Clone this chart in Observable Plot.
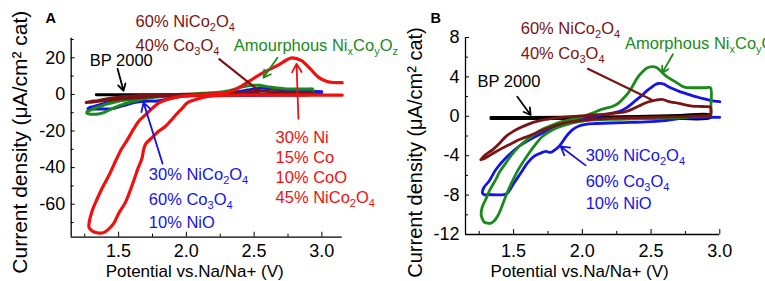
<!DOCTYPE html>
<html><head><meta charset="utf-8">
<script src="https://cdn.jsdelivr.net/npm/d3@7"></script>
<script src="https://cdn.jsdelivr.net/npm/@observablehq/plot@0.6"></script>
<style>
html,body{margin:0;padding:0;background:#fff;overflow:hidden;}
#wrap{display:flex;flex-direction:row;width:765px;height:281px;}
#wrap svg{flex:none;}
</style></head><body><div id="wrap"></div>
<script>
// ---------- data: [potential (V), current density (µA/cm² cat)] ----------
const red = [[3.15,-0.4],[2.8,-0.4],[2.45,-0.4],[2.2,-0.7],[2.12,-1.6],[2.06,-3.0],[2.006,-4.6],[1.97,-7.5],[1.925,-11],[1.883,-14.5],[1.84,-17.8],[1.797,-20],[1.748,-23.5],[1.70,-27],[1.685,-30],[1.672,-35],[1.645,-40],[1.612,-47],[1.55,-59],[1.50,-65],[1.464,-70.5],[1.42,-74],[1.39,-75.5],[1.36,-75.8],[1.32,-75.2],[1.295,-74],[1.281,-72.5],[1.283,-69.8],[1.305,-63.5],[1.342,-57],[1.38,-51],[1.43,-44],[1.48,-36],[1.52,-30],[1.563,-25],[1.61,-19],[1.65,-14.5],[1.70,-11],[1.75,-7.5],[1.80,-4.5],[1.88,-2.3],[1.95,-1.2],[2.05,-0.4],[2.2,0.3],[2.3,1.2],[2.35,2.2],[2.40,4.2],[2.47,7.5],[2.57,12.0],[2.67,15.7],[2.74,18.8],[2.78,20.0],[2.85,18.4],[2.915,13.9],[2.976,9.3],[3.038,7.1],[3.087,6.5],[3.15,6.4]];
const green = [[1.285,-10.74],[1.265,-10.1],[1.27,-9.3],[1.297,-8.45],[1.33,-7.4],[1.37,-6.43],[1.40,-5.6],[1.443,-4.75],[1.49,-3.85],[1.539,-3.06],[1.60,-2.35],[1.661,-1.72],[1.72,-1.25],[1.782,-0.88],[1.85,-0.55],[1.927,-0.3],[2.0,-0.05],[2.07,0.3],[2.121,0.6],[2.18,0.85],[2.218,1.0],[2.26,1.3],[2.29,1.7],[2.33,2.3],[2.363,3.0],[2.40,3.9],[2.436,4.5],[2.47,4.9],[2.508,5.05],[2.54,4.95],[2.57,4.6],[2.617,4.0],[2.678,3.5],[2.72,3.1],[2.751,2.93],[2.823,2.9],[2.90,2.9],[2.932,2.9],[2.935,1.0],[2.932,0.13],[2.85,0.0],[2.751,-0.1],[2.508,-0.2],[2.266,-0.3],[2.10,-0.35],[1.976,-0.54],[1.879,-0.88],[1.782,-1.38],[1.709,-2.05],[1.648,-3.06],[1.588,-4.24],[1.527,-5.59],[1.479,-6.94],[1.443,-8.11],[1.406,-9.46],[1.385,-10.1],[1.36,-10.6],[1.335,-10.85],[1.31,-10.85],[1.285,-10.74]];
const blue = [[3.0,-0.1],[2.9,-0.1],[2.75,-0.15],[2.6,-0.45],[2.5,-0.55],[2.35,-0.62],[2.2,-0.68],[2.1,-0.73],[2.048,-0.77],[1.976,-0.98],[1.927,-1.38],[1.879,-2.12],[1.83,-3.06],[1.794,-3.47],[1.77,-3.67],[1.733,-3.57],[1.697,-3.74],[1.648,-4.07],[1.600,-4.75],[1.552,-5.76],[1.503,-6.77],[1.455,-7.78],[1.43,-7.95],[1.38,-7.98],[1.32,-7.95],[1.285,-7.95],[1.273,-7.78],[1.285,-7.2],[1.321,-6.6],[1.370,-5.42],[1.443,-4.24],[1.539,-3.06],[1.661,-2.05],[1.782,-1.21],[1.903,-0.54],[2.024,-0.2],[2.145,0.13],[2.21,0.3],[2.266,0.47],[2.32,0.85],[2.363,1.31],[2.40,1.75],[2.436,2.15],[2.47,2.6],[2.508,2.99],[2.535,3.25],[2.557,3.33],[2.593,3.27],[2.62,3.05],[2.654,2.83],[2.70,2.55],[2.751,2.32],[2.81,2.05],[2.872,1.82],[2.93,1.62],[3.0,1.48]];
const maroon = [[1.261,-4.41],[1.29,-3.95],[1.346,-3.4],[1.40,-2.7],[1.443,-2.06],[1.50,-1.5],[1.539,-1.21],[1.60,-0.85],[1.661,-0.54],[1.72,-0.35],[1.782,-0.2],[1.85,-0.1],[1.927,-0.03],[2.0,0.05],[2.072,0.13],[2.15,0.2],[2.218,0.3],[2.27,0.38],[2.315,0.47],[2.36,0.7],[2.412,1.04],[2.45,1.3],[2.484,1.48],[2.533,1.65],[2.581,1.72],[2.63,1.48],[2.702,1.31],[2.75,1.15],[2.799,1.04],[2.85,1.0],[2.896,0.98],[2.932,0.91],[2.935,0.5],[2.932,0.13],[2.85,0.05],[2.751,-0.03],[2.6,-0.07],[2.508,-0.1],[2.4,-0.13],[2.266,-0.17],[2.15,-0.25],[2.024,-0.37],[1.95,-0.5],[1.879,-0.64],[1.83,-0.82],[1.782,-1.04],[1.72,-1.35],[1.661,-1.72],[1.60,-2.05],[1.539,-2.39],[1.48,-2.8],[1.418,-3.23],[1.37,-3.6],[1.321,-4.01],[1.285,-4.3],[1.261,-4.41]];
const black = [[1.334,-0.1],[1.6,-0.1],[2.0,-0.06],[2.4,0.0],[2.7,0.1],[2.93,0.15],[2.93,-0.15],[2.6,-0.2],[2.2,-0.25],[1.8,-0.25],[1.334,-0.25]];

// axes
const xDomainA = [1.15, 3.15], yDomainA = [-78, 30.7];
const xDomainB = [1.15, 3.0],  yDomainB = [-12, 8];
const xMajor = [1.5, 2.0, 2.5, 3.0], xMinor = [1.25, 1.75, 2.25, 2.75];
const yMajorA = [-60, -40, -20, 0, 20], yMinorA = [-70, -50, -30, -10, 10, 30];
const yMajorB = [-12, -8, -4, 0, 4, 8], yMinorB = [-10, -6, -2, 2, 6];
const xTitle = "Potential vs.Na/Na+ (V)";
const yTitle = "Current density (\u03bcA/cm\u00b2 cat)";

// annotations (text, anchor in data units)
const labelsA = ["60% NiCo_2O_4","40% Co_3O_4","Amourphous Ni_xCo_yO_z","BP 2000","30% Ni","15% Co","10% CoO","45% NiCo_2O_4","30% NiCo_2O_4","60% Co_3O_4","10% NiO"];
const labelPosA = [[1.625,39.7],[1.625,26.7],[2.35,26.7],[1.287,18.4],[2.658,-23.5],[2.658,-34.4],[2.658,-45.3],[2.658,-56.2],[1.723,-43.8],[1.723,-57.4],[1.723,-70.3]];
const labelKindA = ["maroon","maroon","green","black","red","red","red","red","blue","blue","blue"];
const arrowsA = [[1.492,14.0,1.536,2.0],[2.238,19.5,2.525,2.6],[2.672,20.0,2.569,9.1],[2.827,-13.3,2.813,16.7],[1.824,-37.8,1.684,-4.5]];
const arrowKindA = ["black","maroon","green","red","blue"];

const labelsB = ["60% NiCo_2O_4","40% Co_3O_4","Amorphous Ni_xCo_yO_z","BP 2000","30% NiCo_2O_4","60% Co_3O_4","10% NiO"];
const labelPosB = [[1.552,8.89],[1.552,6.36],[2.31,7.37],[1.237,3.5],[2.024,-3.97],[2.024,-6.6],[2.024,-8.86]];
const labelKindB = ["maroon","maroon","green","black","blue","blue","blue"];
const arrowsB = [[1.527,1.99,1.624,0.13],[2.036,4.85,2.508,1.65],[2.659,6.3,2.581,4.41],[2.024,-4.98,1.842,-3.06]];
const arrowKindB = ["black","maroon","green","blue"];

// ---------- styling ----------
const COLORS = {red:"#f0100f", green:"#1b8a1b", blue:"#1414e6", maroon:"#7a1414", black:"#000"};
const FONT = "'Liberation Sans', Arial, sans-serif";

function panel(cfg) {
  const fh = cfg.height - cfg.mt - cfg.mb, fw = cfg.width - cfg.ml - cfg.mr;
  const line = (d, k, w) => Plot.line(d, {x: p => p[0], y: p => p[1], stroke: COLORS[k], strokeWidth: w, curve: "catmull-rom", strokeLinejoin: "round"});
  const labels = cfg.labels.map((t, i) => ({t, v: cfg.labelPos[i][0], c: cfg.labelPos[i][1], k: cfg.labelKind[i]}));
  const arrows = cfg.arrows.map((a, i) => ({x1: a[0], y1: a[1], x2: a[2], y2: a[3], k: cfg.arrowKind[i]}));
  const marks = [
    Plot.ruleX([cfg.xDomain[0]], {stroke: "#000", strokeWidth: 1.3}),
    Plot.ruleY([cfg.yDomain[0]], {stroke: "#000", strokeWidth: 1.3}),
    Plot.ruleX(xMajor, {x: d => d, insetTop: fh - 5, stroke: "#000", strokeWidth: 1}),
    Plot.ruleX(xMinor, {x: d => d, insetTop: fh - 3, stroke: "#000", strokeWidth: 1}),
    Plot.ruleY(cfg.yMajor, {y: d => d, insetRight: fw - 4, stroke: "#000", strokeWidth: 1}),
    Plot.ruleY(cfg.yMinor, {y: d => d, insetRight: fw - 3, stroke: "#000", strokeWidth: 1}),
    // tick labels
    Plot.text(xMajor, {x: d => d, text: d3.format(".1f"), frameAnchor: "bottom", dy: cfg.xlDy, textAnchor: "middle", lineAnchor: "middle", fontSize: 18}),
    Plot.text(cfg.yMajor, {y: d => d, text: d => String(d), frameAnchor: "left", dx: cfg.ylDx, textAnchor: "end", lineAnchor: "middle", fontSize: 18}),
    line(black, "black", 2.6),
    line(blue, "blue", cfg.lw),
    line(green, "green", cfg.lw),
    line(maroon, "maroon", cfg.lw),
    ...(cfg.withRed ? [line(red, "red", 3.2)] : []),
    Plot.arrow(arrows.filter(a => a.k !== "maroon"), {x1: "x1", y1: "y1", x2: "x2", y2: "y2", stroke: d => COLORS[d.k], strokeWidth: 1.8, headLength: 8, bend: 0}),
    Plot.link(arrows.filter(a => a.k === "maroon"), {x1: "x1", y1: "y1", x2: "x2", y2: "y2", stroke: COLORS.maroon, strokeWidth: 2.2}),
    Plot.text(labels, {x: "v", y: "c", text: "t", fill: d => COLORS[d.k], textAnchor: "start", lineAnchor: "middle", fontSize: 16.5}),
    Plot.text([cfg.letter], {text: d => d, frameAnchor: "top-left", dx: cfg.letterDx, dy: cfg.letterDy, textAnchor: "start", lineAnchor: "middle", fontWeight: "bold", fontSize: 14.5}),
    Plot.text([xTitle], {text: d => d, frameAnchor: "bottom", dx: cfg.xtDx, dy: cfg.xtDy, textAnchor: "middle", lineAnchor: "middle", fontSize: 17}),
    Plot.text([yTitle], {text: d => d, frameAnchor: "left", rotate: -90, dx: cfg.ytDx, dy: cfg.ytDy, textAnchor: "middle", lineAnchor: "middle", fontSize: cfg.ytSize})
  ];
  return Plot.plot({
    width: cfg.width, height: cfg.height,
    marginLeft: cfg.ml, marginRight: cfg.mr, marginTop: cfg.mt, marginBottom: cfg.mb,
    style: {fontFamily: FONT, fontSize: "16px", background: "transparent", overflow: "visible", color: "#000"},
    x: {domain: cfg.xDomain, axis: null},
    y: {domain: cfg.yDomain, axis: null},
    marks
  });
}

function applySubs(svg) {
  const NS = "http://www.w3.org/2000/svg";
  svg.querySelectorAll("text").forEach(t => {
    const s = t.textContent;
    if (!s.includes("_")) return;
    while (t.firstChild) t.removeChild(t.firstChild);
    let shifted = false;
    const add = (txt, sub) => {
      const ts = document.createElementNS(NS, "tspan");
      ts.textContent = txt;
      if (sub) { ts.setAttribute("font-size", "11"); if (!shifted) ts.setAttribute("dy", "4"); }
      else if (shifted) ts.setAttribute("dy", "-4");
      shifted = sub;
      t.appendChild(ts);
    };
    const re = /_(.)/g; let last = 0, m;
    while ((m = re.exec(s))) {
      if (m.index > last) add(s.slice(last, m.index), false);
      add(m[1], true);
      last = m.index + 2;
    }
    if (last < s.length) add(s.slice(last), false);
  });
}

const A = panel({width: 385, height: 281, ml: 70.7, mr: 43.3, mt: 37.7, mb: 44.3,
  xDomain: xDomainA, yDomain: yDomainA, yMajor: yMajorA, yMinor: yMinorA, withRed: true, lw: 3,
  labels: labelsA, labelPos: labelPosA, labelKind: labelKindA, arrows: arrowsA, arrowKind: arrowKindA,
  xlDy: 14, ylDx: -6,
  letter: "A", letterDx: -25.7, letterDy: -19.7, xtDx: -12, xtDy: 34.8, ytDx: -51.2, ytDy: 4.5, ytSize: 21});
const B = panel({width: 380, height: 281, ml: 80, mr: 45.7, mt: 37, mb: 47,
  xDomain: xDomainB, yDomain: yDomainB, yMajor: yMajorB, yMinor: yMinorB, withRed: false, lw: 2.8,
  labels: labelsB, labelPos: labelPosB, labelKind: labelKindB, arrows: arrowsB, arrowKind: arrowKindB,
  xlDy: 16.5, ylDx: -6,
  letter: "B", letterDx: -35, letterDy: -19, xtDx: -13, xtDy: 37.5, ytDx: -49.5, ytDy: 16.5, ytSize: 20});
applySubs(A); applySubs(B);
const wrap = document.getElementById("wrap");
wrap.appendChild(A); wrap.appendChild(B);
</script></body></html>
